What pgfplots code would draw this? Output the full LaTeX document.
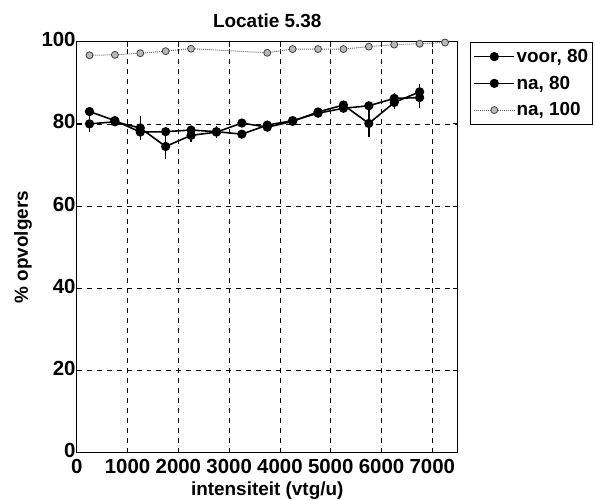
\documentclass[border=0pt]{standalone}
\usepackage{pgfplots}
\pgfplotsset{compat=1.18}
\usepackage{fontspec}
\setmainfont{Liberation Sans}
\begin{document}
\begin{tikzpicture}
\begin{axis}[
  name=ax,
  scale only axis,
  width=381bp, height=411bp,
  xmin=0, xmax=7500, ymin=0, ymax=100,
  xtick={0,1000,2000,3000,4000,5000,6000,7000},
  ytick={0,20,40,60,80,100},
  scaled x ticks=false,
  xticklabel style={/pgf/number format/1000 sep={}, inner sep=1bp, yshift=-5bp},
  yticklabel style={inner sep=1bp, yshift=2bp},
  /pgf/number format/assume math mode=true,
  tick label style={font=\fontsize{20.5}{22}\selectfont\bfseries},
  label style={font=\fontsize{19}{21}\selectfont\bfseries},
  title style={font=\fontsize{19}{21}\selectfont\bfseries, yshift=4bp},
  title={Locatie 5.38},
  xlabel={intensiteit (vtg/u)},
  ylabel={\% opvolgers},
  xlabel style={at={(axis description cs:0.5,0)}, anchor=base, yshift=-43bp},
  ylabel style={yshift=5bp},
  grid=major,
  major grid style={black, dashed, line width=0.6pt, dash pattern=on 5pt off 5pt},
  axis line style={black, line width=1pt},
  tick style={black, line width=0.8pt},
  tick align=inside,
  major tick length=5bp,
  legend style={at={(1.032,1)}, anchor=north west, draw=black, line width=1.2pt,
    font=\fontsize{19}{21}\selectfont\bfseries, inner xsep=3bp, inner ysep=1bp,
    nodes={inner xsep=1.5bp, inner ysep=6bp}},
  legend cell align=left,
  legend image code/.code={\draw[mark repeat=2, mark phase=2, #1] plot coordinates {(0bp,0bp) (20bp,0bp) (40bp,0bp)};},
]
% voor, 80
\addplot+[black, line width=1.6pt, mark=*, mark size=3.8pt, mark options={fill=black, solid},
  error bars/.cd, y dir=both, y explicit, error bar style={line width=1.4pt}, error mark=none]
coordinates {
(250,83.0) +- (0,1.0)
(750,80.8) +- (0,1.0)
(1250,78.0) +- (0,1.5)
(1750,78.1) +- (0,1.0)
(2250,78.5) +- (0,1.0)
(2750,78.1) +- (0,1.0)
(3250,77.5) +- (0,1.0)
(3750,79.7) +- (0,0.8)
(4250,80.8) +- (0,0.8)
(4750,82.6) +- (0,0.8)
(5250,83.8) +- (0,0.8)
(5750,84.4) +- (0,1.0)
(6250,86.2) +- (0,1.2)
(6750,86.4) +- (0,2.5)
};
\addlegendentry{voor, 80}
% na, 80
\addplot+[black, line width=1.6pt, mark=*, mark size=3.8pt, mark options={fill=black, solid},
  error bars/.cd, y dir=both, y explicit, error bar style={line width=1.4pt}, error mark=none]
coordinates {
(250,80.0) +- (0,2.0)
(750,80.5) +- (0,1.0)
(1250,79.0) +- (0,3.0)
(1750,74.5) +- (0,3.0)
(2250,77.2) +- (0,1.5)
(2750,78.0) +- (0,1.5)
(3250,80.2) +- (0,1.0)
(3750,79.2) +- (0,0.8)
(4250,80.6) +- (0,0.8)
(4750,82.9) +- (0,0.8)
(5250,84.6) +- (0,0.8)
(5750,80.1) +- (0,3.2)
(6250,85.2) +- (0,1.5)
(6750,87.8) +- (0,2.0)
};
\addlegendentry{na, 80}
% na, 100
\addplot+[black!60, line width=1pt, densely dotted, mark=*, mark size=3.5pt,
  mark options={solid, fill=gray!55, draw=black!75, line width=0.8pt}]
coordinates {
(250,96.7) (750,96.8) (1250,97.2) (1750,97.7) (2250,98.3)
(3750,97.3) (4250,98.2) (4750,98.2) (5250,98.2) (5750,98.8)
(6250,99.3) (6750,99.5) (7250,99.8)
};
\addlegendentry{na, 100}
\end{axis}
\pgfresetboundingbox
\path[use as bounding box] ([xshift=-76.8bp,yshift=-47.3bp]ax.south west) rectangle ([xshift=137.3bp,yshift=41.7bp]ax.north east);
\end{tikzpicture}
\end{document}
